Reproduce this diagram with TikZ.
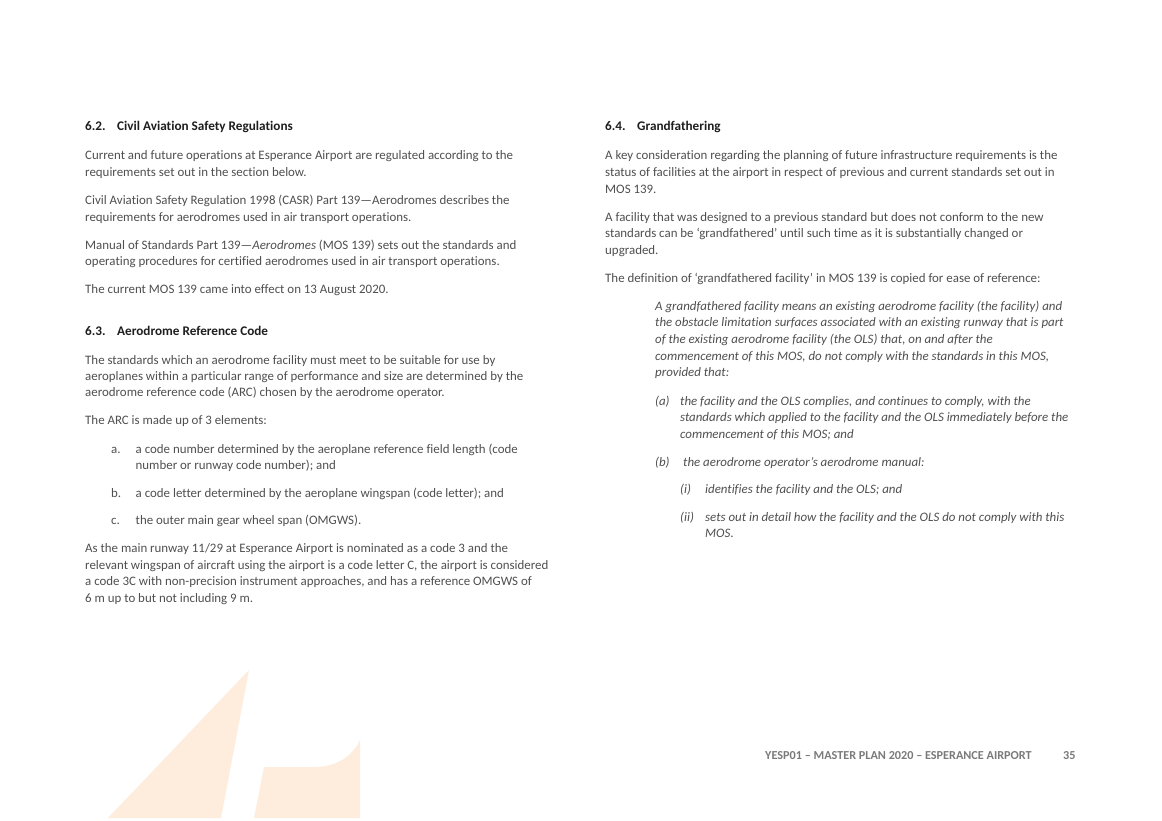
\documentclass[tikz,border=0pt]{standalone}
\usepackage{fontspec}
\setmainfont[Ligatures=NoCommon]{Carlito}
\definecolor{bodycol}{HTML}{4F4F4F}
\definecolor{headcol}{HTML}{1E1E1E}
\definecolor{footcol}{HTML}{7A7A7A}
\definecolor{peach}{HTML}{FEEDDD}
\newcommand\bodysize{\fontsize{12.9}{15}\selectfont}
\newcommand\Bl[4]{\node[body] (#1) at (#2,#3+4) {#4};}
\newcommand\Ql[4]{\node[body,font=\bodysize\itshape] (#1) at (#2,#3+4) {#4};}
\newcommand\Hl[4]{\node[head] (#1) at (#2,#3+4) {#4};}
\begin{document}
\begin{tikzpicture}[x=1pt,y=-1pt,
  body/.style={anchor=base west,inner sep=0pt,font=\bodysize,text=bodycol},
  head/.style={anchor=base west,inner sep=0pt,font=\fontsize{13.2}{15}\selectfont\bfseries,text=headcol},
  foot/.style={anchor=base west,inner sep=0pt,font=\fontsize{12.2}{14}\selectfont\bfseries,text=footcol},
  logo/.style={fill=peach,draw=none}]
\useasboundingbox[fill=white] (0,0) rectangle (1162,821);
% background logo shapes
\fill[logo] (249,670) -- (221,818) -- (108,818) -- cycle;
\fill[logo] (254,818) -- (264,767) -- (315,767) .. controls (340,767) and (355,752) .. (360,740) -- (360,818) -- cycle;
% left column
\Hl{h62n}{85}{127}{6.2.}
\Hl{h62}{117}{127}{Civil Aviation Safety Regulations}
\Bl{a1}{85}{156}{Current and future operations at Esperance Airport are regulated according to the}
\Bl{a2}{85}{172.5}{requirements set out in the section below.}
\Bl{a3}{85}{200.5}{Civil Aviation Safety Regulation 1998 (CASR) Part 139—Aerodromes describes the}
\Bl{a4}{85}{217.5}{requirements for aerodromes used in air transport operations.}
\Bl{a5}{85}{245}{Manual of Standards Part 139—\textit{Aerodromes} (MOS 139) sets out the standards and}
\Bl{a6}{85}{261.5}{operating procedures for certified aerodromes used in air transport operations.}
\Bl{a7}{85}{289.5}{The current MOS 139 came into effect on 13 August 2020.}
\Hl{h63n}{85}{331}{6.3.}
\Hl{h63}{117}{331}{Aerodrome Reference Code}
\Bl{b1}{85}{360}{The standards which an aerodrome facility must meet to be suitable for use by}
\Bl{b2}{85}{376.5}{aeroplanes within a particular range of performance and size are determined by the}
\Bl{b3}{85}{392.5}{aerodrome reference code (ARC) chosen by the aerodrome operator.}
\Bl{b4}{85}{420.5}{The ARC is made up of 3 elements:}
\Bl{ba}{111}{449}{a.}
\Bl{b5}{135.5}{449}{a code number determined by the aeroplane reference field length (code}
\Bl{b6}{135.5}{465.5}{number or runway code number); and}
\Bl{bb}{111}{493}{b.}
\Bl{b7}{135.5}{493}{a code letter determined by the aeroplane wingspan (code letter); and}
\Bl{bc}{111}{520.5}{c.}
\Bl{b8}{135.5}{520.5}{the outer main gear wheel span (OMGWS).}
\Bl{b9}{85}{548.5}{As the main runway 11/29 at Esperance Airport is nominated as a code 3 and the}
\Bl{b10}{85}{565.5}{relevant wingspan of aircraft using the airport is a code letter C, the airport is considered}
\Bl{b11}{85}{581.5}{a code 3C with non-precision instrument approaches, and has a reference OMGWS of}
\Bl{b12}{85}{598}{6 m up to but not including 9 m.}
% right column
\Hl{h64n}{605}{127}{6.4.}
\Hl{h64}{637}{127}{Grandfathering}
\Bl{c1}{605}{156}{A key consideration regarding the planning of future infrastructure requirements is the}
\Bl{c2}{605}{172.5}{status of facilities at the airport in respect of previous and current standards set out in}
\Bl{c3}{605}{189.5}{MOS 139.}
\Bl{c4}{605}{217.5}{A facility that was designed to a previous standard but does not conform to the new}
\Bl{c5}{605}{234}{standards can be ‘grandfathered’ until such time as it is substantially changed or}
\Bl{c6}{605}{250.5}{upgraded.}
\Bl{c7}{605}{278}{The definition of ‘grandfathered facility’ in MOS 139 is copied for ease of reference:}
\Ql{q1}{655}{306}{A grandfathered facility means an existing aerodrome facility (the facility) and}
\Ql{q2}{655}{322.5}{the obstacle limitation surfaces associated with an existing runway that is part}
\Ql{q3}{655}{339.5}{of the existing aerodrome facility (the OLS) that, on and after the}
\Ql{q4}{655}{356}{commencement of this MOS, do not comply with the standards in this MOS,}
\Ql{q5}{655}{372}{provided that:}
\Ql{qa}{655}{401}{(a)}
\Ql{q6}{680}{401}{the facility and the OLS complies, and continues to comply, with the}
\Ql{q7}{680}{417.5}{standards which applied to the facility and the OLS immediately before the}
\Ql{q8}{680}{434}{commencement of this MOS; and}
\Ql{qb}{655}{462}{(b)}
\Ql{q9}{683}{462}{the aerodrome operator’s aerodrome manual:}
\Ql{qi}{680}{489.5}{(i)}
\Ql{q10}{705}{489.5}{identifies the facility and the OLS; and}
\Ql{qii}{680}{517}{(ii)}
\Ql{q11}{705}{517}{sets out in detail how the facility and the OLS do not comply with this}
\Ql{q12}{705}{533.5}{MOS.}
% footer
\node[foot] (f1) at (765,759) {YESP01 – MASTER PLAN 2020 – ESPERANCE AIRPORT};
\node[foot] (f2) at (1063,759) {35};
\end{tikzpicture}
\end{document}
